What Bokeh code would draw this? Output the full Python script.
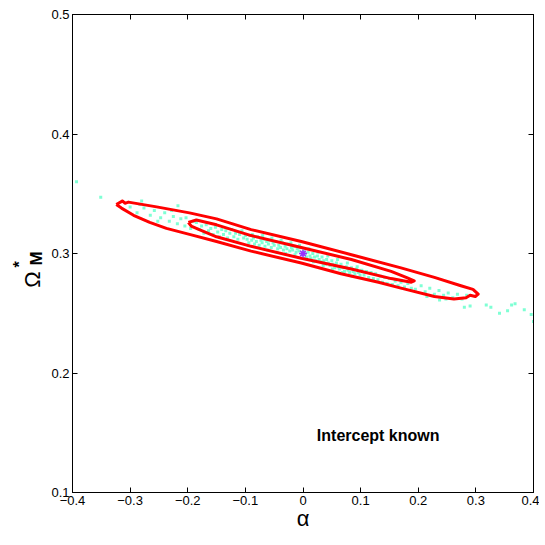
from bokeh.plotting import figure
from bokeh.layouts import row
from bokeh.models import LinearAxis, FixedTicker, CustomJSTickFormatter, Label, Range1d
from bokeh.core.properties import value
from bokeh.embed import file_html
from bokeh.resources import INLINE
from math import pi

# ---- data ----
outer_alpha = [-0.324, -0.313, -0.309, -0.303, -0.254, -0.197, -0.150, -0.090, -0.003,
               0.084, 0.170, 0.228, 0.274, 0.295, 0.304,
               0.299, 0.290, 0.283, 0.262, 0.228, 0.170, 0.131, 0.066, -0.003,
               -0.090, -0.150, -0.197, -0.237, -0.266, -0.294, -0.315, -0.324]
outer_omega = [0.341, 0.344, 0.342, 0.343, 0.339, 0.334, 0.329, 0.320, 0.310,
               0.299, 0.288, 0.280, 0.273, 0.270, 0.266,
               0.264, 0.265, 0.263, 0.262, 0.264, 0.271, 0.276, 0.283, 0.292,
               0.302, 0.310, 0.316, 0.321, 0.326, 0.332, 0.338, 0.341]

inner_alpha = [-0.199, -0.185, -0.150, -0.090, -0.003, 0.084, 0.153, 0.179, 0.193,
               0.188, 0.153, 0.084, -0.003, -0.090, -0.150, -0.180, -0.194, -0.199]
inner_omega = [0.326, 0.328, 0.324, 0.315, 0.305, 0.295, 0.285, 0.280, 0.277,
               0.276, 0.279, 0.287, 0.296, 0.306, 0.314, 0.320, 0.323, 0.326]

samples_alpha = [
    -0.393, -0.351, -0.280, -0.217,
    -0.300, -0.288, -0.276, -0.265, -0.258, -0.247, -0.240, -0.232, -0.225, -0.218, -0.212, -0.205,
    -0.283, -0.252, -0.228, -0.203, -0.195, -0.190,
    -0.185, -0.180, -0.176, -0.172, -0.168, -0.164, -0.160, -0.156, -0.152, -0.148, -0.145, -0.141,
    -0.138, -0.134, -0.131, -0.127, -0.124, -0.120, -0.117, -0.113, -0.110, -0.106, -0.103, -0.100,
    -0.097, -0.094, -0.092, -0.089, -0.086, -0.084, -0.081, -0.079, -0.076, -0.073, -0.071, -0.068,
    -0.066, -0.063, -0.060, -0.058, -0.055, -0.052, -0.050, -0.047, -0.044, -0.042, -0.039, -0.036,
    -0.034, -0.031, -0.028, -0.026, -0.023, -0.020, -0.018, -0.015, -0.012, -0.010, -0.007, -0.004,
    -0.002, 0.001, 0.004, 0.006, 0.009, 0.012, 0.014, 0.017, 0.020, 0.022, 0.025, 0.028,
    0.031, 0.033, 0.036, 0.039, 0.041, 0.044, 0.047, 0.050, 0.052, 0.055, 0.058, 0.061,
    0.063, 0.066, 0.069, 0.072, 0.075, 0.078, 0.081, 0.084, 0.087, 0.090, 0.093, 0.096, 0.099,
    -0.095, -0.088, -0.078, -0.070, -0.061, -0.054, -0.045, -0.038, -0.030, -0.021, -0.014, -0.006,
    0.003, 0.010, 0.018, 0.026, 0.035, 0.043, 0.051, 0.060, 0.068, 0.077, 0.085, 0.094,
    0.102, 0.106, 0.110, 0.114, 0.118, 0.122, 0.126, 0.130, 0.134, 0.138, 0.142, 0.146,
    0.150, 0.155, 0.160, 0.165, 0.170, 0.176, 0.182, 0.188,
    0.195, 0.205, 0.212, 0.220, 0.228, 0.236, 0.244, 0.252, 0.260, 0.268, 0.276, 0.284, 0.215, 0.248,
    0.280, 0.290, 0.318, 0.326, 0.341, 0.355, 0.362, 0.368, 0.384, 0.396, 0.400, 0.237]
samples_omega = [
    0.360, 0.347, 0.344, 0.340,
    0.339, 0.334, 0.338, 0.332, 0.336, 0.330, 0.334, 0.327, 0.331, 0.325, 0.329, 0.323,
    0.341, 0.327, 0.336, 0.330, 0.321, 0.327,
    0.326, 0.320, 0.323, 0.317, 0.324, 0.319, 0.321, 0.316, 0.322, 0.318, 0.314, 0.320,
    0.316, 0.319, 0.313, 0.317, 0.320, 0.314, 0.317, 0.312, 0.316, 0.319, 0.313, 0.315,
    0.312, 0.309, 0.315, 0.311, 0.313, 0.308, 0.310, 0.314, 0.307, 0.311, 0.309, 0.312,
    0.306, 0.310, 0.308, 0.311, 0.305, 0.309, 0.307, 0.310, 0.304, 0.307, 0.305, 0.309,
    0.303, 0.306, 0.304, 0.308, 0.302, 0.305, 0.303, 0.306, 0.301, 0.304, 0.302, 0.305,
    0.299, 0.302, 0.300, 0.297, 0.301, 0.298, 0.296, 0.300, 0.297, 0.294, 0.298, 0.295,
    0.293, 0.297, 0.294, 0.291, 0.295, 0.292, 0.290, 0.294, 0.291, 0.288, 0.292, 0.289,
    0.287, 0.291, 0.288, 0.285, 0.289, 0.286, 0.284, 0.288, 0.285, 0.283, 0.287, 0.284, 0.282,
    0.307, 0.316, 0.305, 0.315, 0.303, 0.313, 0.301, 0.311, 0.300, 0.309, 0.299, 0.307,
    0.296, 0.304, 0.293, 0.301, 0.290, 0.298, 0.287, 0.295, 0.284, 0.292, 0.281, 0.289,
    0.286, 0.282, 0.285, 0.280, 0.284, 0.279, 0.283, 0.278, 0.281, 0.276, 0.280, 0.275,
    0.279, 0.274, 0.277, 0.273, 0.276, 0.272, 0.275, 0.271,
    0.270, 0.273, 0.268, 0.271, 0.266, 0.269, 0.265, 0.267, 0.263, 0.266, 0.262, 0.265, 0.264, 0.262,
    0.255, 0.256, 0.257, 0.255, 0.250, 0.252, 0.257, 0.258, 0.253, 0.249, 0.243, 0.261]

best_alpha = [0.0]
best_omega = [0.3]

x_ticks = [-0.4, -0.3, -0.2, -0.1, 0.0, 0.1, 0.2, 0.3, 0.4]
y_ticks = [0.1, 0.2, 0.3, 0.4, 0.5]
annotation = "Intercept known"
x_label = "α"
y_label_parts = ["Ω", "*", "M"]

FONT = "Liberation Sans"
LW = 48

p = figure(frame_width=461, frame_height=478,
           min_border_left=20, min_border_right=6, min_border_top=14, min_border_bottom=46,
           x_range=Range1d(-0.4, 0.4), y_range=Range1d(0.1, 0.5),
           output_backend="svg", toolbar_location=None,
           background_fill_color="white", border_fill_color="white")
p.xgrid.visible = False
p.ygrid.visible = False
p.outline_line_color = "black"
p.outline_line_width = 1

fmt = CustomJSTickFormatter(code="""
const s = Math.abs(tick) < 1e-9 ? '0' : tick.toFixed(1);
return s.replace('-', '\\u2212');
""")
blank = CustomJSTickFormatter(code="return '';")

for ax, ticks in ((p.xaxis[0], x_ticks), (p.yaxis[0], y_ticks)):
    ax.ticker = FixedTicker(ticks=ticks)
    ax.formatter = fmt
    ax.major_tick_in = 5
    ax.major_tick_out = 0
    ax.minor_tick_line_color = None
    ax.axis_line_color = "black"
    ax.major_tick_line_color = "black"
    ax.major_label_text_font = FONT
    ax.major_label_text_font_size = "13px"
    ax.major_label_text_color = "black"
    ax.major_label_standoff = 3

p.xaxis.axis_label = x_label
p.xaxis.axis_label_text_font = FONT
p.xaxis.axis_label_text_font_size = "22px"
p.xaxis.axis_label_text_font_style = "normal"
p.xaxis.axis_label_text_color = "black"
p.xaxis.axis_label_standoff = -2

top = LinearAxis(ticker=FixedTicker(ticks=x_ticks), formatter=blank,
                 major_tick_in=5, major_tick_out=0, minor_tick_line_color=None,
                 major_label_standoff=0, major_label_text_font_size="1px")
right = LinearAxis(ticker=FixedTicker(ticks=y_ticks), formatter=blank,
                   major_tick_in=5, major_tick_out=0, minor_tick_line_color=None,
                   major_label_standoff=0, major_label_text_font_size="1px")
p.add_layout(top, "above")
p.add_layout(right, "right")

# samples
p.scatter(samples_alpha, samples_omega, marker="square", size=3,
          fill_color="#7fffd4", line_color=None)
# contours
p.line(outer_alpha, outer_omega, line_color="red", line_width=3, line_join="round")
p.line(inner_alpha, inner_omega, line_color="red", line_width=3, line_join="round")
# best fit
p.scatter(best_alpha, best_omega, marker="asterisk", size=8,
          line_color="#9b30ff", line_width=1.5)

# annotation
p.add_layout(Label(x=0.024, y=0.148, text=annotation, text_font=FONT,
                   text_font_style="bold", text_font_size="16px",
                   text_baseline="middle", text_align="left", text_color="black"))

# y-axis label panel: same vertical frame as the main plot
lab = figure(frame_width=LW, frame_height=478,
             min_border_left=0, min_border_right=0, min_border_top=14, min_border_bottom=46,
             x_range=Range1d(0, LW), y_range=Range1d(0.1, 0.5),
             x_axis_location=None, y_axis_location=None,
             output_backend="svg", toolbar_location=None, outline_line_color=None)
lab.xgrid.visible = False
lab.ygrid.visible = False
lab.text(x=[32], y=[0.2782], text=[y_label_parts[0]], angle=pi / 2,
         text_font=value(FONT), text_font_size="22px", text_align="center",
         text_baseline="middle", text_color="black")
lab.text(x=[19], y=[0.2908], text=[y_label_parts[1]], angle=pi / 2,
         text_font=value(FONT), text_font_style="bold", text_font_size="16px",
         text_align="center", text_baseline="middle", text_color="black")
lab.text(x=[36], y=[0.2958], text=[y_label_parts[2]], angle=pi / 2,
         text_font=value(FONT), text_font_style="bold", text_font_size="17px",
         text_align="center", text_baseline="middle", text_color="black")

layout = row(lab, p, spacing=0)
open("out.html", "w").write(file_html(layout, INLINE))
